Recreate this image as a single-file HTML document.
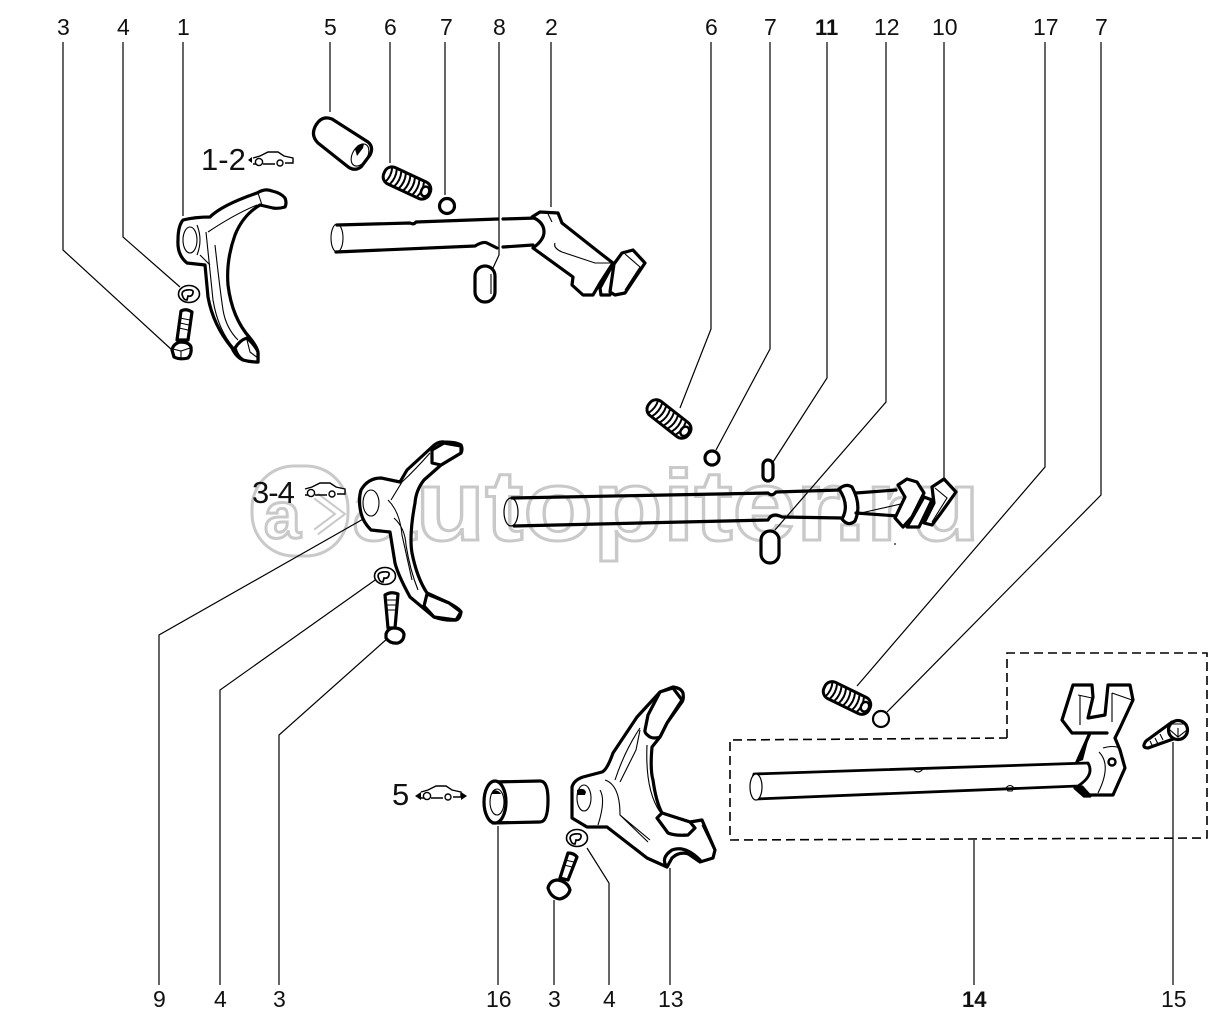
<!DOCTYPE html>
<html><head><meta charset="utf-8"><style>
html,body{margin:0;padding:0;background:#fff}
svg{display:block}
text{font-family:"Liberation Sans",sans-serif;fill:#111}
.k{fill:#fff;stroke:#000;stroke-width:3.2;stroke-linejoin:round;stroke-linecap:round}
.o{fill:none;stroke:#000;stroke-width:3.2;stroke-linejoin:round;stroke-linecap:round}
.n{fill:none;stroke:#000;stroke-width:1.1}
.l{fill:none;stroke:#000;stroke-width:1.2}
.w{fill:#fff;stroke:#c9c9c9;stroke-width:3;font-weight:bold}
</style></head><body>
<svg width="1229" height="1024" viewBox="0 0 1229 1024" xmlns="http://www.w3.org/2000/svg">
<defs>
<g id="spring">
<rect x="-25" y="-9" width="50" height="18" rx="8" fill="#fff" stroke="#000" stroke-width="3"/>
<g fill="none" stroke="#000" stroke-width="2">
<path d="M-20-8q3 8 0 16M-15-8q3 8 0 16M-10-8q3 8 0 16M-5-8q3 8 0 16M0-8q3 8 0 16M5-8q3 8 0 16M10-8q3 8 0 16M15-8q3 8 0 16"/>
</g>
<ellipse cx="20" cy="0" rx="4" ry="5" fill="none" stroke="#000" stroke-width="2.4"/>
</g>
<g id="washer">
<ellipse cx="0" cy="0" rx="10.5" ry="8.5" fill="#fff" stroke="#000" stroke-width="1.6"/>
<path d="M-6 3q-3-6 4-7t6 3q-1 4-5 3l-1 4q-3 0-4-3" fill="none" stroke="#000" stroke-width="1.7"/>
</g>
<g id="car" fill="#fff" stroke="#000" stroke-width="1.4">
<path d="M0 6l7-2 8-4h10l6 4 9 2v5H32M22 12H10M3 12H0z"/>
<circle cx="6" cy="10" r="3.6"/><circle cx="27" cy="11" r="3"/>
</g>
</defs>

<!-- watermark -->
<rect x="252" y="466" width="96" height="90" rx="42" fill="#fff" stroke="#c9c9c9" stroke-width="3"/>
<text class="w" x="264" y="538" font-size="66">a</text>
<path d="M316 496l24 18-24 18" fill="none" stroke="#c9c9c9" stroke-width="8"/>
<path d="M316 496l24 18-24 18" fill="none" stroke="#fff" stroke-width="4"/>
<text class="w" x="352" y="540" font-size="100" textLength="628" lengthAdjust="spacingAndGlyphs">autopiter.ru</text>
<circle cx="895" cy="544" r="1" fill="#444"/>

<!-- leader lines -->
<g class="l">
<path d="M63 42V250L172 350M123 42V237L180 287M183 42V216M330 42V112M390 42V163M445 42V195M499 42V255L493 268M551 42V207"/>
<path d="M711 42V329L680 408M770 42V349L716 450M827 42V378L773 462M886 42V402L775 530M944 42V478M1045 42V467L857 686M1101 42V495L887 712"/>
<path d="M159 985V635L365 518M220 985V690L378 578M279 985V735L388 638M498 985V826M554 985V900M609 985V883L587 848M670 985V868M974 985V840M1173 985V742"/>
</g>

<!-- dashed box -->
<path d="M1007 738V653H1207V838L730 840V740L1007 738" fill="none" stroke="#000" stroke-width="1.6" stroke-dasharray="9 5"/>

<!-- labels top -->
<g font-size="23">
<text x="57" y="35">3</text><text x="117" y="35">4</text><text x="177" y="35">1</text><text x="324" y="35">5</text><text x="384" y="35">6</text><text x="440" y="35">7</text><text x="493" y="35">8</text><text x="545" y="35">2</text><text x="705" y="35">6</text><text x="764" y="35">7</text><text x="815" y="35" font-weight="bold" font-size="22">11</text><text x="874" y="35">12</text><text x="932" y="35">10</text><text x="1033" y="35">17</text><text x="1095" y="35">7</text>
<text x="153" y="1007">9</text><text x="214" y="1007">4</text><text x="273" y="1007">3</text><text x="486" y="1007">16</text><text x="548" y="1007">3</text><text x="603" y="1007">4</text><text x="658" y="1007">13</text><text x="962" y="1007" font-weight="bold" font-size="22">14</text><text x="1161" y="1007">15</text>
</g>
<text x="201" y="170" font-size="31">1-2</text>
<text x="252" y="503" font-size="31" letter-spacing="-1">3-4</text>
<text x="392" y="805" font-size="31">5</text>
<use href="#car" x="253" y="152"/><path d="M248 160l4-3v6z"/>
<use href="#car" x="305" y="483"/>
<use href="#car" x="421" y="786"/><path d="M415 796l6-4v8zM467 796l-6-4v8z"/>

<!-- Group 1-2 -->
<path class="k" d="M183 220Q195 217 210 217Q222 205 257 193Q265 188 272 191Q281 193 285 198Q287 203 285 207Q278 209 273 208L260 205Q243 215 235 235Q226 260 228 285Q232 318 250 338Q258 348 258 353V362Q250 362 243 360Q236 357 232 348Q213 325 208 297L205 265L187 263Q177 255 178 240Q178 226 183 220Z"/>
<ellipse cx="190" cy="240" rx="7" ry="13" class="n" stroke-width="1.6"/>
<path class="n" d="M208 232Q235 214 257 205M258 193L262 205M206 232L213 300Q218 330 234 348M215 245Q220 290 223 310Q226 328 238 340M197 225Q203 240 197 255M200 255L210 265"/>
<path class="k" d="M235 348Q240 340 247 338Q255 345 258 352V362Q250 362 243 360Q237 356 235 348Z" stroke-width="2.5"/>
<path class="n" d="M247 340L250 352L258 358"/>
<use href="#washer" x="189" y="294"/>
<path class="k" d="M181 311Q186 308 192 312L188 340H177Z" stroke-width="2.4"/>
<path class="n" d="M180 318L190 320M180 323L189 325M179 328L188 330"/>
<path class="k" d="M172 350Q173 344 180 342Q189 342 191 347Q192 354 188 358Q180 360 174 357Z" stroke-width="2.8"/>
<path class="n" d="M173 349L181 351L190 348M181 351V358"/>
<!-- sleeve top -->
<path class="k" d="M316 125Q322 115 332 119L368 142Q374 147 370 155L361 167Q354 172 347 166L318 143Q310 135 316 125Z"/>
<ellipse cx="360" cy="155" rx="7.5" ry="12" transform="rotate(30 360 155)" class="n" stroke-width="1.4"/>
<path d="M355 149q3-6 9-5l-1 4-6 8z"/>
<use href="#spring" transform="translate(407 183) rotate(25)"/>
<circle cx="447" cy="206" r="7.5" class="k" stroke-width="2.8"/>
<rect x="475" y="266" width="20" height="36" rx="10" class="k"/>
<path class="n" d="M491 274V294"/>
<!-- shaft 2 -->
<path class="o" fill="none" d="M337 225L410 223Q414 225 416 222L498 219M503 219L537 218M336 252L475 246Q483 241 487 243L497 248M503 247L533 245"/>
<ellipse cx="337" cy="238" rx="6" ry="14" class="n" stroke-width="1.8" />
<path class="k" d="M532 217L540 212L558 213L562 223L600 253L613 263L600 283L593 295H583L572 285L573 277L533 248Q544 240 544 232Q544 222 532 217Z"/>
<path class="n" d="M555 243Q553 248 562 252L595 263H613M548 214L552 222"/>
<path class="k" d="M613 264L618 272L610 295H601L600 288Z" stroke-width="2.2"/>
<path class="k" d="M614 264L622 253L633 250L645 263L625 293L615 295L610 292Z"/>
<path class="n" d="M625 254L640 267L625 290"/>

<!-- Group 3-4 -->
<path class="k" d="M381 478L400 482L407 470L432 447Q438 441 444 442Q456 442 461 445Q463 449 461 453L441 465L424 480Q416 490 415 503Q409 535 412 553Q417 578 427 593L449 603Q460 609 461 612Q460 619 456 620Q445 621 434 617L410 597Q398 575 395 563L390 532L371 530Q363 522 361 513Q358 500 361 490Q368 478 381 478Z"/>
<ellipse cx="371" cy="503" rx="8" ry="13" class="n" stroke-width="1.6"/>
<path class="n" d="M391 500L402 482Q415 470 430 453M388 500Q400 512 402 535L412 580M394 518Q405 528 406 545Q410 570 418 590"/>
<path class="k" d="M432 450L444 443L461 446V453L441 465L432 463Z" stroke-width="2.5"/>
<path class="k" d="M427 594L449 603L461 612L456 620L434 617L424 606Z" stroke-width="2.5"/>
<use href="#washer" x="385" y="576"/>
<path class="k" d="M385 595Q391 591 398 594L395 628H388Z" stroke-width="2.4"/>
<path class="n" d="M387 600H396M387 605H396M387 610H395"/>
<path class="k" d="M386 634Q388 628 394 628Q402 628 404 634Q404 641 398 643Q390 644 386 638Z" stroke-width="2.8"/>
<!-- shaft 3-4 -->
<path class="o" d="M512 498L768 493Q772 497 776 492L840 490M514 526L768 520Q772 512 782 517L842 518"/>
<path class="o" d="M856 493L896 490M856 513L898 516"/>
<ellipse cx="511" cy="512" rx="7" ry="14" fill="none" stroke="#000" stroke-width="1.2"/>
<path class="o" d="M839 489Q846 483 852 487Q862 505 855 521Q848 527 842 519Q850 505 839 489Z"/>
<path class="n" d="M861 513L905 503"/>
<path class="k" d="M898 485L907 479L917 482L924 493L912 517L903 527L895 518L905 497Z" stroke-width="2.5"/>
<path class="k" d="M924 497L907 527L919 527L932 500Z" stroke-width="2"/>
<path class="k" d="M932 487L944 479L956 492L941 513L932 525L924 523L934 503Z"/>
<path class="n" d="M935 488L947 498L932 522"/>
<use href="#spring" transform="translate(669 419) rotate(38)"/>
<circle cx="712" cy="458" r="7" class="k" stroke-width="2.8"/>
<rect x="763" y="460" width="10" height="21" rx="5" class="k" stroke-width="2.6"/>
<rect x="761" y="531" width="18" height="32" rx="9" class="k"/>

<!-- Group 5 -->
<path class="k" d="M548 800Q548 781 540 781L493 782V823L540 822Q548 822 548 800Z"/>
<ellipse cx="495" cy="802" rx="11" ry="21" class="k"/>
<ellipse cx="497" cy="802" rx="7" ry="13" class="n" stroke-width="1.4"/>
<path d="M493 790q6 0 8 4h-9z"/>
<path class="k" d="M583 777L602 772Q607 770 613 753L637 717L660 692L673 687Q681 688 683 693Q684 699 682 702L667 723L660 737L652 747Q650 770 653 780Q656 802 662 813L690 822L702 820L715 850L713 858L700 862Q693 857 687 853Q680 850 673 852L667 867L647 858L607 827L587 827L572 818V787Q574 780 583 777Z"/>
<ellipse cx="584" cy="798" rx="7" ry="13" class="n" stroke-width="1.8"/>
<path d="M577 790q7-3 9 2l-1 3-8 0z"/>
<path class="n" d="M600 790Q606 800 598 825M605 780Q620 785 620 815L650 840M620 782L636 750L640 730M615 780Q625 750 640 728M647 745Q645 790 660 812M620 815L648 842M702 825L715 852"/>
<path class="k" d="M660 692L673 688L682 700L667 723L660 737Q654 739 650 737Q644 733 645 730L648 715Z" stroke-width="2.5"/>
<path class="k" d="M657 818L662 813L690 822L695 828L688 835Q675 836 668 833Z" stroke-width="2.5"/>
<path class="k" d="M667 867Q660 858 672 850Q685 845 700 860L692 855Q680 850 672 858Z" stroke-width="2"/>
<use href="#washer" x="577" y="838"/>
<path class="k" d="M568 853Q574 853 577 857L568 880L560 878Z" stroke-width="2.4"/>
<path class="n" d="M565 860L574 862M564 865L572 867"/>
<path class="k" d="M548 888Q550 880 558 880Q568 882 570 890Q568 897 560 899Q551 898 548 888Z" stroke-width="2.8"/>

<!-- Group 14 -->
<use href="#spring" transform="translate(847 698) rotate(26)"/>
<circle cx="881" cy="719" r="8" fill="#fff" stroke="#000" stroke-width="2.2"/>
<path class="k" d="M1073 685L1092 685L1093 697L1088 718L1105 715L1108 685H1130L1133 700L1120 728L1115 738L1120 750L1125 768L1113 795H1083L1075 788L1077 762L1090 733H1107H1072L1062 720Z"/>
<path class="n" d="M1078 695L1092 698M1080 696V725M1112 693L1132 700M1112 693V722M1103 748Q1113 745 1120 748M1099 752Q1112 765 1098 793"/>
<path class="k" d="M1090 733L1077 762" stroke-width="2"/>
<path d="M1089 737L1083 760L1078 762L1084 745Z"/>
<path class="k" d="M1088 763L754 774Q750 787 755 799L1078 786Q1095 775 1088 763Z" style="stroke-width:2.8"/>
<ellipse cx="756" cy="787" rx="6" ry="13" fill="#fff" stroke="#000" stroke-width="1.2"/>
<path class="n" d="M913 769Q918 775 923 769M1006 788q4-5 8 0l-2 3h-4z"/>
<circle cx="1112" cy="762" r="3.5" fill="#fff" stroke="#000" stroke-width="2.4"/>
<path class="k" d="M1077 787L1084 796L1090 796L1082 787Z" stroke-width="1.5" style="fill:#000"/>
<path class="k" d="M1172 722L1146 741Q1141 748 1148 748L1176 738Z" stroke-width="2.4"/>
<path class="n" d="M1150 741l3 6M1155 738l3 6M1160 734l3 6"/>
<circle cx="1178" cy="730" r="9.5" class="k" stroke-width="2.5"/>
<path class="n" d="M1172 724L1186 724M1170 730L1178 737L1187 730M1178 737V728"/>
</svg>
</body></html>
